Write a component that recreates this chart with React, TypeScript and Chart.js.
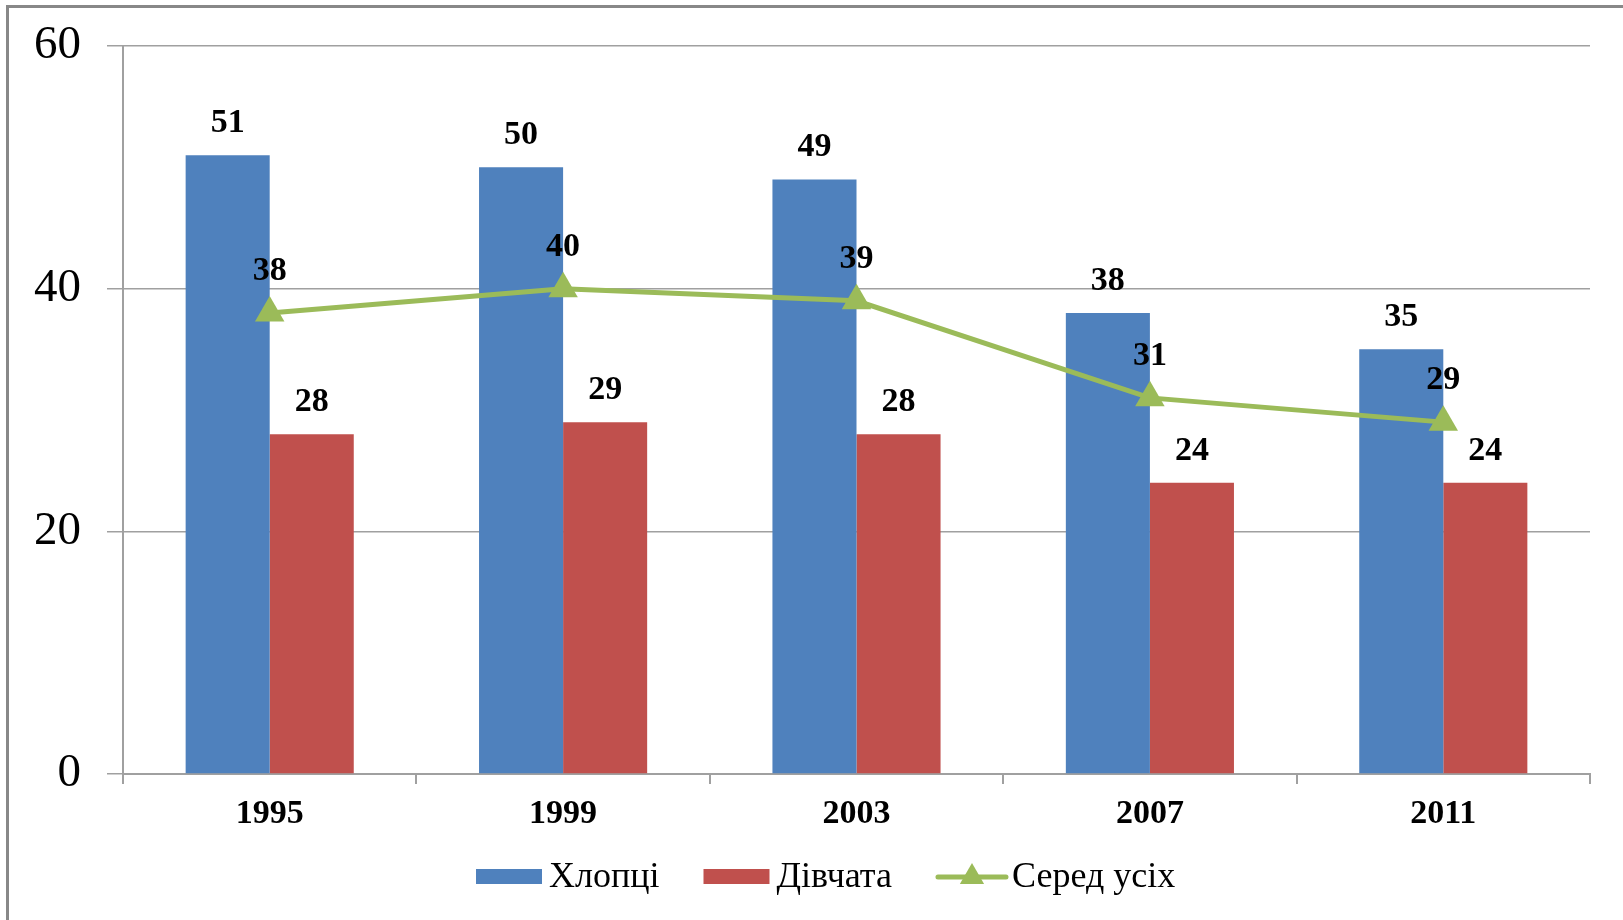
import React, { useEffect, useRef } from "react";
import { Chart, registerables } from "chart.js";

Chart.register(...registerables);

const categories = ["1995", "1999", "2003", "2007", "2011"];
const boys = [51, 50, 49, 38, 35];
const girls = [28, 29, 28, 24, 24];
const overall = [38, 40, 39, 31, 29];
const seriesNames = ["Хлопці", "Дівчата", "Серед усіх"];
const yTicks = { min: 0, max: 60, step: 20 };

const BLUE = "#4F81BD";
const RED = "#C0504D";
const GREEN = "#9BBB59";
const GRID = "#A0A0A0";
const FONT = '"Liberation Serif", "Times New Roman", serif';

const valueLabels = {
  id: "valueLabels",
  afterDatasetsDraw(chart: any) {
    const ctx = chart.ctx;
    ctx.save();
    ctx.font = `bold 34px ${FONT}`;
    ctx.fillStyle = "#000";
    ctx.textAlign = "center";
    ctx.textBaseline = "alphabetic";
    chart.data.datasets.forEach((ds: any, i: number) => {
      const meta = chart.getDatasetMeta(i);
      meta.data.forEach((el: any, j: number) => {
        const off = ds.type === "line" ? 33 : 23;
        ctx.fillText(String(ds.data[j]), el.x, el.y - off);
      });
    });
    ctx.restore();
  },
};

const customLegend = {
  id: "customLegend",
  afterDraw(chart: any) {
    const ctx = chart.ctx;
    ctx.save();
    ctx.font = `36px ${FONT}`;
    ctx.textBaseline = "middle";
    ctx.textAlign = "left";
    const y = 877;
    let x = 476;
    const boxW = 66;
    chart.data.datasets.forEach((ds: any) => {
      if (ds.type === "line") {
        ctx.strokeStyle = ds.borderColor;
        ctx.lineWidth = 5;
        ctx.lineCap = "round";
        ctx.beginPath();
        ctx.moveTo(x + 2, y);
        ctx.lineTo(x + boxW + 4, y);
        ctx.stroke();
        const cx = x + boxW / 2 + 3;
        const r = 14;
        ctx.fillStyle = ds.borderColor;
        ctx.beginPath();
        ctx.moveTo(cx, y - r);
        ctx.lineTo(cx + r * 0.866, y + r / 2);
        ctx.lineTo(cx - r * 0.866, y + r / 2);
        ctx.closePath();
        ctx.fill();
        x += boxW + 10;
      } else {
        ctx.fillStyle = ds.backgroundColor;
        ctx.fillRect(x, y - 8, boxW, 15);
        x += boxW + 7;
      }
      ctx.fillStyle = "#000";
      ctx.fillText(ds.label, x, y + 1);
      x += ctx.measureText(ds.label).width + 44;
    });
    ctx.restore();
  },
};

export default function App() {
  const ref = useRef<HTMLCanvasElement | null>(null);

  useEffect(() => {
    if (!ref.current) return;
    const chart = new Chart(ref.current, {
      type: "bar",
      data: {
        labels: categories,
        datasets: [
          {
            type: "bar",
            label: seriesNames[0],
            data: boys,
            backgroundColor: BLUE,
            categoryPercentage: 0.573,
            barPercentage: 1,
            order: 1,
          },
          {
            type: "bar",
            label: seriesNames[1],
            data: girls,
            backgroundColor: RED,
            categoryPercentage: 0.573,
            barPercentage: 1,
            order: 1,
          },
          {
            type: "line",
            label: seriesNames[2],
            data: overall,
            borderColor: GREEN,
            backgroundColor: GREEN,
            borderWidth: 5,
            pointStyle: "triangle",
            pointRadius: 17,
            pointHoverRadius: 17,
            pointBackgroundColor: GREEN,
            pointBorderColor: GREEN,
            pointBorderWidth: 0,
            tension: 0,
            order: 0,
          } as any,
        ],
      },
      options: {
        responsive: false,
        animation: false,
        events: [],
        layout: { padding: { left: 0, right: 33, top: 46, bottom: 0 } },
        plugins: {
          legend: { display: false },
          tooltip: { enabled: false },
        },
        scales: {
          x: {
            offset: true,
            grid: {
              display: true,
              offset: true,
              drawOnChartArea: false,
              drawTicks: true,
              tickLength: 10,
              color: GRID,
              lineWidth: 2,
            },
            border: { display: true, color: GRID, width: 2 },
            ticks: {
              color: "#000",
              padding: 10,
              font: { family: FONT, size: 34, weight: "bold" },
            },
            afterFit(scale: any) {
              scale.height = 146;
              scale.paddingLeft = 0;
              scale.paddingRight = 0;
            },
          },
          y: {
            min: yTicks.min,
            max: yTicks.max,
            grid: {
              color: GRID,
              lineWidth: 1.5,
              drawTicks: true,
              tickLength: 16,
            },
            border: { display: true, color: GRID, width: 2 },
            ticks: {
              stepSize: yTicks.step,
              color: "#000",
              padding: 26,
              font: { family: FONT, size: 47 },
            },
            afterFit(scale: any) {
              scale.width = 123;
              scale.paddingTop = 0;
              scale.paddingBottom = 0;
            },
          },
        },
      },
      plugins: [valueLabels, customLegend],
    });
    return () => chart.destroy();
  }, []);

  return (
    <div
      style={{
        position: "fixed",
        left: 0,
        top: 0,
        width: 1623,
        height: 920,
        overflow: "hidden",
        background: "#fff",
      }}
    >
      <canvas
        ref={ref}
        width={1623}
        height={920}
        style={{ position: "absolute", left: 0, top: 0, width: 1623, height: 920 }}
      />
      <div
        style={{
          position: "absolute",
          left: 6,
          top: 5,
          width: 1700,
          height: 1000,
          borderTop: "3px solid #888",
          borderLeft: "3px solid #888",
          pointerEvents: "none",
        }}
      />
    </div>
  );
}
